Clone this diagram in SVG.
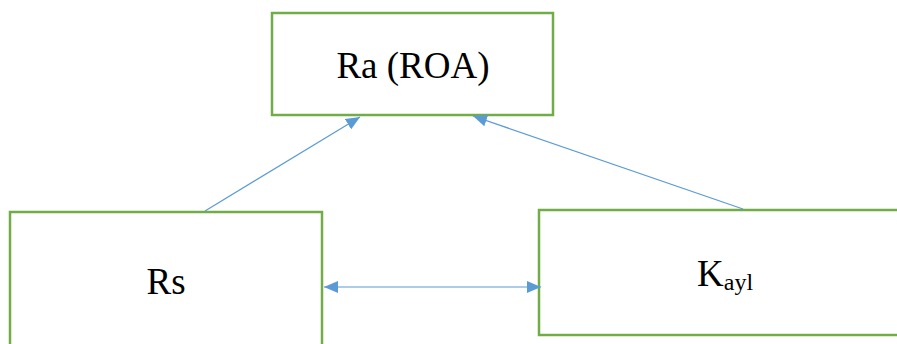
<svg xmlns="http://www.w3.org/2000/svg" width="897" height="344" viewBox="0 0 897 344">
<style>
.box{fill:#fff;stroke:#70AD47;stroke-width:2.5}
.lbl{font-family:"Liberation Serif","Times New Roman",serif;font-size:37px;fill:#000}
.sub{font-size:24px}
.conn{stroke:#5B9BD5;stroke-width:1.2;fill:none}
</style>
<defs>
<marker id="ah" viewBox="0 0 14 12" refX="14" refY="6" markerWidth="14" markerHeight="12" markerUnits="userSpaceOnUse" orient="auto-start-reverse">
<path d="M0,0 L14,6 L0,12 z" fill="#5B9BD5"/>
</marker>
</defs>
<rect width="897" height="344" fill="#fff"/>
<g id="node-ra">
<rect class="box" x="272" y="13" width="281" height="102"/>
<text class="lbl" x="413" y="78" text-anchor="middle">Ra (ROA)</text>
</g>
<g id="node-rs">
<rect class="box" x="10" y="212" width="312" height="140"/>
<text class="lbl" x="166" y="294" text-anchor="middle">Rs</text>
</g>
<g id="node-kayl">
<rect class="box" x="539" y="210" width="370" height="125"/>
<text class="lbl" x="697" y="286">K<tspan class="sub" dy="4">ayl</tspan></text>
</g>
<g id="connectors">
<line class="conn" x1="205" y1="211" x2="360" y2="117" marker-end="url(#ah)"/>
<line class="conn" x1="743" y1="209" x2="473" y2="116" marker-end="url(#ah)"/>
<line class="conn" x1="324" y1="287" x2="541" y2="287" marker-start="url(#ah)" marker-end="url(#ah)"/>
</g>
</svg>
